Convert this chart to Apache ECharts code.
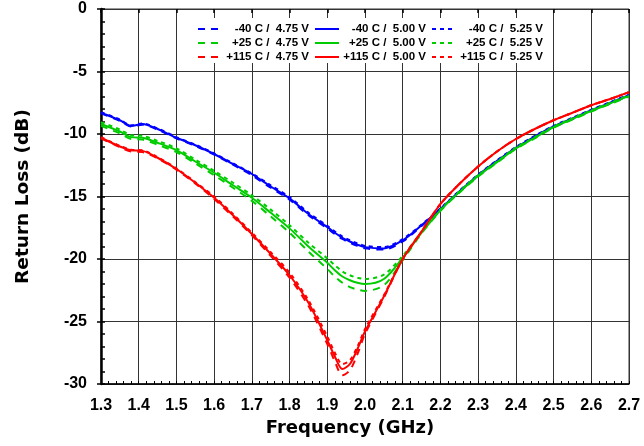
<!DOCTYPE html>
<html>
<head>
<meta charset="utf-8">
<script src="https://cdn.jsdelivr.net/npm/echarts@6/dist/echarts.min.js"></script>
<style>
html,body{margin:0;padding:0;background:#fff;}
#chart{width:644px;height:446px;}
</style>
</head>
<body>
<div id="chart"></div>
<script>
// ---- data ----
var freq = [1.30,1.35,1.38,1.41,1.45,1.50,1.55,1.60,1.65,1.70,1.75,1.80,1.85,1.90,1.92,1.94,1.96,1.98,2.00,2.05,2.10,2.15,2.20,2.25,2.30,2.35,2.40,2.45,2.50,2.55,2.60,2.65,2.70];

var m40_475 = [-8.35,-8.95,-9.4,-9.25,-9.65,-10.35,-10.95,-11.65,-12.45,-13.3,-14.3,-15.25,-16.5,-17.55,-18.0,-18.4,-18.7,-18.95,-19.15,-19.25,-18.6,-17.35,-16.05,-14.65,-13.35,-12.2,-11.15,-10.25,-9.45,-8.8,-8.15,-7.55,-6.95];
var m40_500 = [-8.3,-8.9,-9.35,-9.2,-9.6,-10.3,-10.9,-11.6,-12.4,-13.2,-14.2,-15.15,-16.4,-17.45,-17.9,-18.3,-18.6,-18.85,-19.05,-19.15,-18.5,-17.3,-16.0,-14.6,-13.3,-12.15,-11.1,-10.2,-9.4,-8.75,-8.1,-7.5,-6.9];
var m40_525 = [-8.25,-8.85,-9.3,-9.15,-9.55,-10.25,-10.85,-11.55,-12.35,-13.15,-14.1,-15.05,-16.3,-17.35,-17.8,-18.2,-18.5,-18.75,-18.95,-19.05,-18.4,-17.25,-15.95,-14.55,-13.25,-12.1,-11.05,-10.15,-9.35,-8.7,-8.05,-7.45,-6.85];

var p25_475 = [-9.35,-9.95,-10.4,-10.45,-10.85,-11.45,-12.35,-13.3,-14.3,-15.35,-16.6,-17.9,-19.4,-20.8,-21.4,-21.9,-22.25,-22.45,-22.55,-22.1,-20.1,-17.95,-16.15,-14.7,-13.4,-12.3,-11.2,-10.35,-9.5,-8.85,-8.2,-7.6,-7.0];
var p25_500 = [-9.2,-9.8,-10.25,-10.3,-10.7,-11.3,-12.2,-13.1,-14.1,-15.1,-16.3,-17.55,-19.0,-20.3,-20.9,-21.4,-21.7,-21.9,-22.0,-21.6,-19.9,-17.9,-16.1,-14.65,-13.35,-12.25,-11.15,-10.3,-9.45,-8.8,-8.15,-7.55,-6.95];
var p25_525 = [-9.05,-9.65,-10.1,-10.15,-10.55,-11.15,-12.05,-12.95,-13.9,-14.9,-16.05,-17.3,-18.7,-19.95,-20.5,-21.0,-21.3,-21.5,-21.6,-21.25,-19.75,-17.85,-16.05,-14.6,-13.3,-12.2,-11.1,-10.25,-9.4,-8.75,-8.1,-7.5,-6.9];

var p115_475 = [-10.35,-11.05,-11.4,-11.45,-11.95,-12.85,-13.95,-15.2,-16.6,-18.1,-19.75,-21.5,-23.75,-26.8,-28.2,-29.3,-28.9,-27.6,-26.0,-23.1,-20.0,-17.8,-15.6,-14.0,-12.6,-11.4,-10.4,-9.6,-8.9,-8.3,-7.7,-7.2,-6.65];
var p115_500 = [-10.3,-11.0,-11.3,-11.35,-11.9,-12.8,-13.9,-15.1,-16.5,-18.0,-19.6,-21.3,-23.5,-26.5,-27.8,-28.8,-28.4,-27.2,-25.8,-23.0,-20.0,-17.8,-15.6,-14.0,-12.6,-11.4,-10.4,-9.6,-8.9,-8.3,-7.7,-7.2,-6.65];
var p115_525 = [-10.25,-10.95,-11.25,-11.3,-11.85,-12.75,-13.85,-15.0,-16.4,-17.9,-19.45,-21.1,-23.3,-26.2,-27.5,-28.4,-28.1,-27.0,-25.6,-22.9,-20.0,-17.8,-15.6,-14.0,-12.6,-11.4,-10.4,-9.6,-8.9,-8.3,-7.7,-7.2,-6.65];

var seriesNames = [
  '-40 C /  4.75 V','-40 C /  5.00 V','-40 C /  5.25 V',
  '+25 C /  4.75 V','+25 C /  5.00 V','+25 C /  5.25 V',
  '+115 C /  4.75 V','+115 C /  5.00 V','+115 C /  5.25 V'
];
var seriesValues = [m40_475,m40_500,m40_525,p25_475,p25_500,p25_525,p115_475,p115_500,p115_525];
var xTickLabels = ['1.3','1.4','1.5','1.6','1.7','1.8','1.9','2.0','2.1','2.2','2.3','2.4','2.5','2.6','2.7'];
var yTickLabels = ['-30','-25','-20','-15','-10','-5','0'];

// ---- styles ----
var colors = ['#0000ff','#0000ff','#0000ff','#00cc00','#00cc00','#00cc00','#ff0000','#ff0000','#ff0000'];
var dashTypes = [[7,6],'solid',[4,4],[7,6],'solid',[4,4],[7,6],'solid',[4,4]];
var FONT = 'DejaVu Sans';
var TICKFONT = 'Liberation Sans';

var series = seriesNames.map(function(n,i){
  return {
    name:n, type:'line', xAxisIndex:0, yAxisIndex:0,
    symbol:'none', smooth:0.3,
    lineStyle:{color:colors[i], width:2, type:dashTypes[i]},
    itemStyle:{color:colors[i]},
    data: freq.map(function(f,j){ return [f, seriesValues[i][j]]; }),
    z: 5 + Math.floor(i/3)
  };
});

function legendCol(idx, left){
  var ids = [idx, idx+3, idx+6];
  return {
    show:true, orient:'vertical', left:left, top:18,
    itemWidth:24, itemHeight:10, itemGap:2,
    data: ids.map(function(k){
      return {name:seriesNames[k], itemStyle:{opacity:0},
        lineStyle:{color:colors[k], width:2, type:dashTypes[k]}};
    }),
    itemStyle:{opacity:0},
    formatter:function(n){ return '{a|'+n+'}'; },
    textStyle:{fontFamily:TICKFONT, fontWeight:'bold', fontSize:11.5, color:'#000',
      rich:{a:{width:82, align:'right', fontFamily:TICKFONT, fontWeight:'bold', fontSize:11.5, color:'#000'}}},
    selectedMode:false
  };
}
var legends = [legendCol(0,192), legendCol(1,309), legendCol(2,426)];

var option = {
  animation:false,
  backgroundColor:'#fff',
  grid:{left:101, right:15, top:9, bottom:62, show:true, borderColor:'#333', borderWidth:1},
  graphic:[{type:'rect', shape:{x:186, y:18, width:358, height:45}, style:{fill:'#fff'}, z:3, silent:true}],
  legend:legends,
  xAxis:[{
    type:'value', min:1.3, max:2.7, interval:0.1,
    name:'Frequency (GHz)', nameLocation:'middle', nameGap:35,
    nameTextStyle:{fontFamily:FONT, fontWeight:'bold', fontSize:18, color:'#000', padding:[0,30,0,0]},
    axisLine:{show:true, onZero:false, lineStyle:{color:'#000', width:1.5}},
    axisTick:{show:true, inside:true, length:3, lineStyle:{color:'#000', width:1}},
    minorTick:{show:true, splitNumber:5, length:3, lineStyle:{color:'#000', width:1}},
    axisLabel:{margin:14, fontFamily:TICKFONT, fontWeight:'bold', fontSize:16, color:'#000',
      formatter:function(v){ var i = Math.round((v-1.3)/0.1); return xTickLabels[i] || ''; }},
    splitLine:{show:true, lineStyle:{color:'#333', width:1}}
  },{
    type:'value', min:1.3, max:2.7, interval:0.1, position:'bottom', gridIndex:0,
    axisLine:{show:false}, axisLabel:{show:false}, splitLine:{show:false},
    axisTick:{show:true, inside:false, length:4, lineStyle:{color:'#000', width:1.5}}
  }],
  yAxis:[{
    type:'value', min:-30, max:0, interval:5,
    name:'Return Loss (dB)', nameLocation:'middle', nameGap:68, nameRotate:90,
    nameTextStyle:{fontFamily:FONT, fontWeight:'bold', fontSize:18.5, color:'#000'},
    axisLine:{show:true, onZero:false, lineStyle:{color:'#000', width:2.5}},
    axisTick:{show:true, inside:true, length:4, lineStyle:{color:'#000', width:1.5}},
    minorTick:{show:true, splitNumber:5, length:4, lineStyle:{color:'#000', width:1.5}},
    axisLabel:{margin:14, fontFamily:TICKFONT, fontWeight:'bold', fontSize:16, color:'#000',
      formatter:function(v){ var i = Math.round((v+30)/5); return yTickLabels[i] || ''; }},
    splitLine:{show:true, lineStyle:{color:'#333', width:1}}
  },{
    type:'value', min:-30, max:0, interval:5, position:'left', gridIndex:0,
    axisLine:{show:false}, axisLabel:{show:false}, splitLine:{show:false},
    axisTick:{show:true, inside:false, length:4, lineStyle:{color:'#000', width:1.5}}
  }],
  series:series
};
var chart = echarts.init(document.getElementById('chart'), null, {renderer:'canvas'});
chart.setOption(option);
</script>
</body>
</html>
